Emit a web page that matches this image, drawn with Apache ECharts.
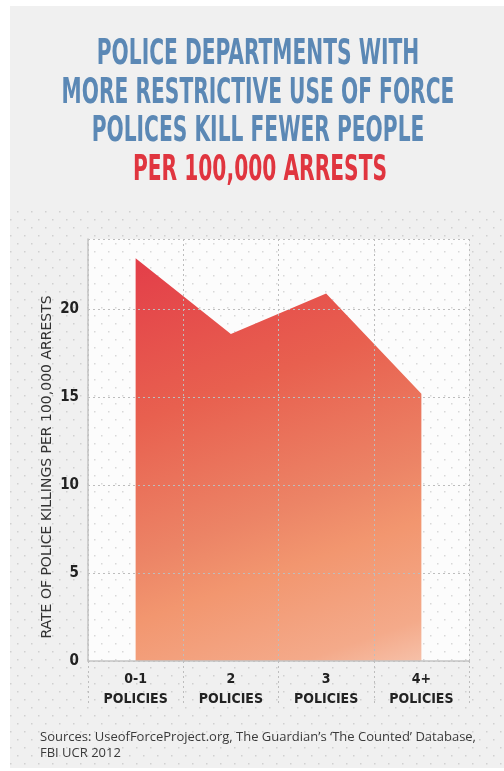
<!DOCTYPE html>
<html>
<head>
<meta charset="utf-8">
<script src="https://cdn.jsdelivr.net/npm/echarts@6/dist/echarts.min.js"></script>
<style>
  html, body { margin: 0; padding: 0; background: #fff; }
  #main { width: 504px; height: 771px; }
</style>
</head>
<body>
<div id="main"></div>
<script>
// data
var categories = ['0-1\nPOLICIES', '2\nPOLICIES', '3\nPOLICIES', '4+\nPOLICIES'];
var killRate = [22.9, 18.6, 20.9, 15.2];
var titleLines = ['POLICE DEPARTMENTS WITH', 'MORE RESTRICTIVE USE OF FORCE', 'POLICES KILL FEWER PEOPLE'];
var subTitle = 'PER 100,000 ARRESTS';
var yName = 'RATE OF POLICE KILLINGS PER 100,000 ARRESTS';
var sourceText = 'Sources: UseofForceProject.org, The Guardian\u2019s \u2018The Counted\u2019 Database,\nFBI UCR 2012';

var narrow = '"Liberation Sans Narrow", "DejaVu Sans Condensed", sans-serif';

// faint staggered dot texture
const makeDots = (bg) => {
    var c = document.createElement('canvas');
    c.width = 14;
    c.height = 16;
    var ctx = c.getContext('2d');
    ctx.fillStyle = bg;
    ctx.fillRect(0, 0, 14, 16);
    ctx.fillStyle = 'rgba(150,150,150,0.35)';
    ctx.fillRect(3, 3, 1.5, 1.5);
    ctx.fillRect(10, 11, 1.5, 1.5);
    return { image: c, repeat: 'repeat' };
};

var chartDom = document.getElementById('main');
var myChart = echarts.init(chartDom);
var option;

var titleEls = [];
titleLines.forEach(function (t, i) {
    titleEls.push({
        type: 'text',
        x: 258,
        y: 55 + i * 38.5,
        scaleY: 1.6,
        style: {
            text: t,
            fill: '#5b88b5',
            font: 'bold 22.5px ' + narrow,
            textAlign: 'center',
            textVerticalAlign: 'middle'
        }
    });
});
titleEls.push({
    type: 'text',
    x: 260,
    y: 55 + 3 * 38.5,
    scaleY: 1.6,
    style: {
        text: subTitle,
        fill: '#e0353f',
        font: 'bold 22.5px ' + narrow,
        textAlign: 'center',
        textVerticalAlign: 'middle'
    }
});

option = {
    backgroundColor: '#ffffff',
    animation: false,
    graphic: [
        {
            type: 'rect',
            z: -10,
            shape: { x: 10, y: 6, width: 494, height: 762 },
            style: { fill: '#f0f0f0' }
        },
        {
            type: 'rect',
            z: -9,
            shape: { x: 10, y: 210, width: 494, height: 558 },
            style: { fill: makeDots('#f0f0f0') }
        }
    ].concat(titleEls).concat([
        {
            type: 'text',
            x: 40,
            y: 729,
            style: {
                text: sourceText,
                fill: '#3a3a3a',
                font: '13px "Open Sans", sans-serif',
                lineHeight: 16
            }
        }
    ]),
    grid: {
        left: 88,
        right: 35,
        top: 239,
        bottom: 110,
        show: true,
        backgroundColor: makeDots('#fcfcfc'),
        borderWidth: 0
    },
    xAxis: {
        type: 'category',
        data: categories,
        boundaryGap: true,
        z: 5,
        axisLine: { lineStyle: { color: '#c4c4c4', width: 1.5 } },
        axisTick: { show: true, interval: 0, length: 42, lineStyle: { color: '#bdbdbd', type: [2, 3] } },
        axisLabel: {
            interval: 0,
            color: '#222',
            fontFamily: narrow,
            fontWeight: 'bold',
            fontSize: 14,
            lineHeight: 20,
            margin: 8
        },
        splitLine: { show: true, interval: 0, lineStyle: { color: '#bdbdbd', type: [2, 3] } }
    },
    yAxis: [
        {
            type: 'value',
            min: 0,
            max: 24,
            interval: 5,
            z: 5,
            name: yName,
            nameLocation: 'middle',
            nameGap: 34,
            nameMoveOverlap: false,
            nameTextStyle: { color: '#333', fontFamily: 'DejaVu Sans', fontSize: 14, padding: [0, 34, 0, 0] },
            axisLine: { show: true, lineStyle: { color: '#c4c4c4', width: 1.5 } },
            axisTick: { show: false },
            axisLabel: {
                color: '#222',
                fontFamily: narrow,
                fontWeight: 'bold',
                fontSize: 15,
                margin: 9,
                showMaxLabel: false
            },
            splitLine: { lineStyle: { color: '#bdbdbd', type: [2, 3] } }
        },
        {
            type: 'value',
            min: 0,
            max: 24,
            interval: 24,
            z: 5,
            axisLine: { show: false },
            axisTick: { show: false },
            axisLabel: { show: false },
            splitLine: { lineStyle: { color: '#bdbdbd', type: [2, 3] } }
        }
    ],
    series: [
        {
            name: 'rate',
            type: 'line',
            data: killRate,
            z: 1,
            symbol: 'none',
            lineStyle: { width: 0 },
            areaStyle: {
                opacity: 1,
                color: new echarts.graphic.LinearGradient(0, 0, 0.6, 1.2, [
                    { offset: 0, color: '#e33e49' },
                    { offset: 0.3, color: '#e8604f' },
                    { offset: 0.555, color: '#ec8466' },
                    { offset: 0.667, color: '#f2966f' },
                    { offset: 0.85, color: '#f4aa8a' },
                    { offset: 1, color: '#f8d6c6' }
                ])
            }
        }
    ]
};

myChart.setOption(option);
</script>
</body>
</html>
